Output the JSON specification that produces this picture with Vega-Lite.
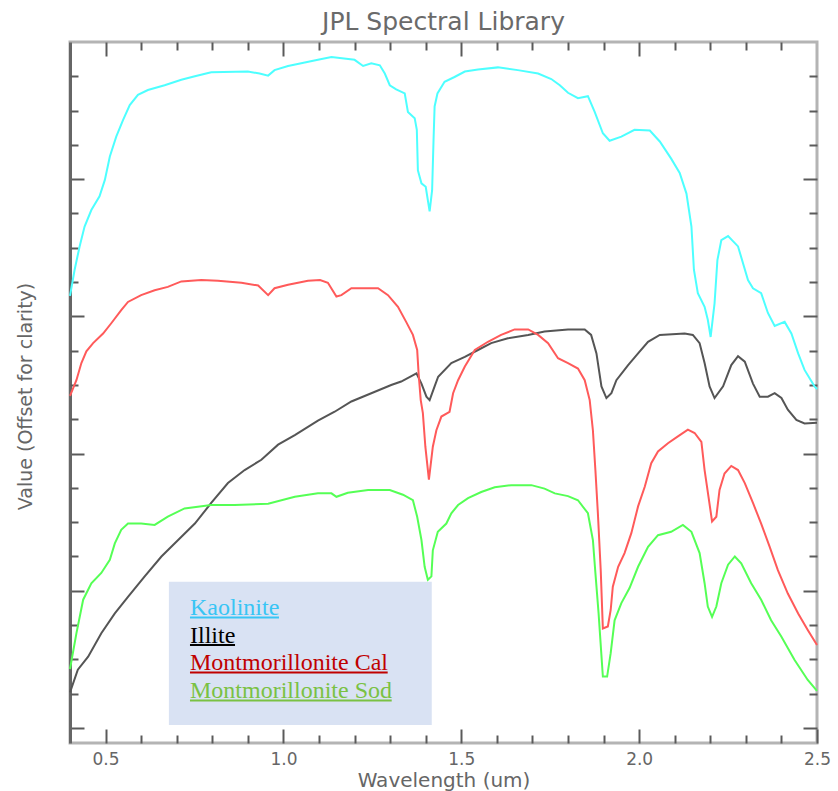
{
  "$schema": "https://vega.github.io/schema/vega-lite/v6.json",
  "width": 747,
  "height": 701,
  "autosize": "none",
  "padding": {"left": 70, "top": 42, "right": 21, "bottom": 48},
  "background": "white",
  "title": {"text": "JPL Spectral Library", "font": "DejaVu Sans", "fontSize": 25, "fontWeight": "normal", "color": "#6a6a6a", "anchor": "middle", "offset": 6},
  "config": {
    "view": {"stroke": "#b4b4b4", "strokeWidth": 3},
    "axis": {"grid": false, "domain": false, "tickColor": "#5a5a5a", "tickWidth": 2, "labelFont": "DejaVu Sans", "labelFontSize": 17, "labelColor": "#666666", "titleFont": "DejaVu Sans", "titleFontSize": 20, "titleFontWeight": "normal", "titleColor": "#666666", "labelFlush": false, "labelOverlap": false}
  },
  "datasets": {
    "spectra": [
      {"mineral": "Kaolinite", "w": 0.400, "v": 0.630},
      {"mineral": "Kaolinite", "w": 0.413, "v": 0.668},
      {"mineral": "Kaolinite", "w": 0.427, "v": 0.702},
      {"mineral": "Kaolinite", "w": 0.441, "v": 0.731},
      {"mineral": "Kaolinite", "w": 0.460, "v": 0.755},
      {"mineral": "Kaolinite", "w": 0.483, "v": 0.775},
      {"mineral": "Kaolinite", "w": 0.498, "v": 0.799},
      {"mineral": "Kaolinite", "w": 0.512, "v": 0.833},
      {"mineral": "Kaolinite", "w": 0.530, "v": 0.862},
      {"mineral": "Kaolinite", "w": 0.549, "v": 0.886},
      {"mineral": "Kaolinite", "w": 0.568, "v": 0.908},
      {"mineral": "Kaolinite", "w": 0.591, "v": 0.923},
      {"mineral": "Kaolinite", "w": 0.619, "v": 0.930},
      {"mineral": "Kaolinite", "w": 0.666, "v": 0.937},
      {"mineral": "Kaolinite", "w": 0.713, "v": 0.945},
      {"mineral": "Kaolinite", "w": 0.751, "v": 0.950},
      {"mineral": "Kaolinite", "w": 0.797, "v": 0.956},
      {"mineral": "Kaolinite", "w": 0.900, "v": 0.957},
      {"mineral": "Kaolinite", "w": 0.933, "v": 0.954},
      {"mineral": "Kaolinite", "w": 0.957, "v": 0.951},
      {"mineral": "Kaolinite", "w": 0.975, "v": 0.959},
      {"mineral": "Kaolinite", "w": 1.013, "v": 0.965},
      {"mineral": "Kaolinite", "w": 1.050, "v": 0.969},
      {"mineral": "Kaolinite", "w": 1.097, "v": 0.974},
      {"mineral": "Kaolinite", "w": 1.135, "v": 0.978},
      {"mineral": "Kaolinite", "w": 1.200, "v": 0.974},
      {"mineral": "Kaolinite", "w": 1.224, "v": 0.965},
      {"mineral": "Kaolinite", "w": 1.247, "v": 0.969},
      {"mineral": "Kaolinite", "w": 1.271, "v": 0.966},
      {"mineral": "Kaolinite", "w": 1.285, "v": 0.954},
      {"mineral": "Kaolinite", "w": 1.299, "v": 0.937},
      {"mineral": "Kaolinite", "w": 1.317, "v": 0.931},
      {"mineral": "Kaolinite", "w": 1.341, "v": 0.925},
      {"mineral": "Kaolinite", "w": 1.350, "v": 0.898},
      {"mineral": "Kaolinite", "w": 1.369, "v": 0.889},
      {"mineral": "Kaolinite", "w": 1.375, "v": 0.872},
      {"mineral": "Kaolinite", "w": 1.378, "v": 0.813},
      {"mineral": "Kaolinite", "w": 1.388, "v": 0.794},
      {"mineral": "Kaolinite", "w": 1.400, "v": 0.789},
      {"mineral": "Kaolinite", "w": 1.411, "v": 0.753},
      {"mineral": "Kaolinite", "w": 1.418, "v": 0.784},
      {"mineral": "Kaolinite", "w": 1.422, "v": 0.857},
      {"mineral": "Kaolinite", "w": 1.425, "v": 0.906},
      {"mineral": "Kaolinite", "w": 1.433, "v": 0.925},
      {"mineral": "Kaolinite", "w": 1.453, "v": 0.942},
      {"mineral": "Kaolinite", "w": 1.481, "v": 0.949},
      {"mineral": "Kaolinite", "w": 1.510, "v": 0.957},
      {"mineral": "Kaolinite", "w": 1.547, "v": 0.960},
      {"mineral": "Kaolinite", "w": 1.603, "v": 0.963},
      {"mineral": "Kaolinite", "w": 1.659, "v": 0.959},
      {"mineral": "Kaolinite", "w": 1.716, "v": 0.954},
      {"mineral": "Kaolinite", "w": 1.753, "v": 0.946},
      {"mineral": "Kaolinite", "w": 1.777, "v": 0.937},
      {"mineral": "Kaolinite", "w": 1.800, "v": 0.926},
      {"mineral": "Kaolinite", "w": 1.828, "v": 0.918},
      {"mineral": "Kaolinite", "w": 1.856, "v": 0.921},
      {"mineral": "Kaolinite", "w": 1.875, "v": 0.898},
      {"mineral": "Kaolinite", "w": 1.898, "v": 0.867},
      {"mineral": "Kaolinite", "w": 1.917, "v": 0.856},
      {"mineral": "Kaolinite", "w": 1.950, "v": 0.862},
      {"mineral": "Kaolinite", "w": 1.987, "v": 0.872},
      {"mineral": "Kaolinite", "w": 2.030, "v": 0.871},
      {"mineral": "Kaolinite", "w": 2.058, "v": 0.855},
      {"mineral": "Kaolinite", "w": 2.090, "v": 0.830},
      {"mineral": "Kaolinite", "w": 2.114, "v": 0.809},
      {"mineral": "Kaolinite", "w": 2.133, "v": 0.779},
      {"mineral": "Kaolinite", "w": 2.147, "v": 0.731},
      {"mineral": "Kaolinite", "w": 2.154, "v": 0.668},
      {"mineral": "Kaolinite", "w": 2.165, "v": 0.634},
      {"mineral": "Kaolinite", "w": 2.184, "v": 0.614},
      {"mineral": "Kaolinite", "w": 2.193, "v": 0.595},
      {"mineral": "Kaolinite", "w": 2.201, "v": 0.570},
      {"mineral": "Kaolinite", "w": 2.212, "v": 0.619},
      {"mineral": "Kaolinite", "w": 2.220, "v": 0.682},
      {"mineral": "Kaolinite", "w": 2.231, "v": 0.711},
      {"mineral": "Kaolinite", "w": 2.250, "v": 0.717},
      {"mineral": "Kaolinite", "w": 2.278, "v": 0.702},
      {"mineral": "Kaolinite", "w": 2.306, "v": 0.653},
      {"mineral": "Kaolinite", "w": 2.320, "v": 0.641},
      {"mineral": "Kaolinite", "w": 2.343, "v": 0.634},
      {"mineral": "Kaolinite", "w": 2.362, "v": 0.605},
      {"mineral": "Kaolinite", "w": 2.381, "v": 0.586},
      {"mineral": "Kaolinite", "w": 2.409, "v": 0.592},
      {"mineral": "Kaolinite", "w": 2.428, "v": 0.575},
      {"mineral": "Kaolinite", "w": 2.447, "v": 0.546},
      {"mineral": "Kaolinite", "w": 2.465, "v": 0.522},
      {"mineral": "Kaolinite", "w": 2.493, "v": 0.498},
      {"mineral": "Kaolinite", "w": 2.500, "v": 0.494},

      {"mineral": "Illite", "w": 0.400, "v": 0.052},
      {"mineral": "Illite", "w": 0.422, "v": 0.085},
      {"mineral": "Illite", "w": 0.451, "v": 0.104},
      {"mineral": "Illite", "w": 0.488, "v": 0.138},
      {"mineral": "Illite", "w": 0.526, "v": 0.167},
      {"mineral": "Illite", "w": 0.563, "v": 0.191},
      {"mineral": "Illite", "w": 0.610, "v": 0.221},
      {"mineral": "Illite", "w": 0.657, "v": 0.250},
      {"mineral": "Illite", "w": 0.704, "v": 0.274},
      {"mineral": "Illite", "w": 0.751, "v": 0.298},
      {"mineral": "Illite", "w": 0.797, "v": 0.328},
      {"mineral": "Illite", "w": 0.844, "v": 0.357},
      {"mineral": "Illite", "w": 0.891, "v": 0.376},
      {"mineral": "Illite", "w": 0.938, "v": 0.391},
      {"mineral": "Illite", "w": 0.985, "v": 0.413},
      {"mineral": "Illite", "w": 1.032, "v": 0.427},
      {"mineral": "Illite", "w": 1.097, "v": 0.448},
      {"mineral": "Illite", "w": 1.144, "v": 0.461},
      {"mineral": "Illite", "w": 1.191, "v": 0.476},
      {"mineral": "Illite", "w": 1.247, "v": 0.488},
      {"mineral": "Illite", "w": 1.303, "v": 0.500},
      {"mineral": "Illite", "w": 1.331, "v": 0.505},
      {"mineral": "Illite", "w": 1.374, "v": 0.517},
      {"mineral": "Illite", "w": 1.388, "v": 0.502},
      {"mineral": "Illite", "w": 1.402, "v": 0.483},
      {"mineral": "Illite", "w": 1.411, "v": 0.478},
      {"mineral": "Illite", "w": 1.425, "v": 0.498},
      {"mineral": "Illite", "w": 1.435, "v": 0.512},
      {"mineral": "Illite", "w": 1.472, "v": 0.532},
      {"mineral": "Illite", "w": 1.510, "v": 0.541},
      {"mineral": "Illite", "w": 1.547, "v": 0.551},
      {"mineral": "Illite", "w": 1.584, "v": 0.561},
      {"mineral": "Illite", "w": 1.631, "v": 0.568},
      {"mineral": "Illite", "w": 1.688, "v": 0.573},
      {"mineral": "Illite", "w": 1.734, "v": 0.578},
      {"mineral": "Illite", "w": 1.800, "v": 0.581},
      {"mineral": "Illite", "w": 1.847, "v": 0.581},
      {"mineral": "Illite", "w": 1.865, "v": 0.573},
      {"mineral": "Illite", "w": 1.880, "v": 0.546},
      {"mineral": "Illite", "w": 1.894, "v": 0.498},
      {"mineral": "Illite", "w": 1.908, "v": 0.481},
      {"mineral": "Illite", "w": 1.922, "v": 0.488},
      {"mineral": "Illite", "w": 1.936, "v": 0.507},
      {"mineral": "Illite", "w": 1.969, "v": 0.529},
      {"mineral": "Illite", "w": 1.997, "v": 0.546},
      {"mineral": "Illite", "w": 2.025, "v": 0.563},
      {"mineral": "Illite", "w": 2.058, "v": 0.573},
      {"mineral": "Illite", "w": 2.128, "v": 0.575},
      {"mineral": "Illite", "w": 2.151, "v": 0.573},
      {"mineral": "Illite", "w": 2.170, "v": 0.561},
      {"mineral": "Illite", "w": 2.184, "v": 0.532},
      {"mineral": "Illite", "w": 2.198, "v": 0.498},
      {"mineral": "Illite", "w": 2.212, "v": 0.481},
      {"mineral": "Illite", "w": 2.236, "v": 0.498},
      {"mineral": "Illite", "w": 2.259, "v": 0.529},
      {"mineral": "Illite", "w": 2.278, "v": 0.542},
      {"mineral": "Illite", "w": 2.297, "v": 0.534},
      {"mineral": "Illite", "w": 2.320, "v": 0.502},
      {"mineral": "Illite", "w": 2.339, "v": 0.483},
      {"mineral": "Illite", "w": 2.362, "v": 0.483},
      {"mineral": "Illite", "w": 2.381, "v": 0.488},
      {"mineral": "Illite", "w": 2.400, "v": 0.481},
      {"mineral": "Illite", "w": 2.418, "v": 0.464},
      {"mineral": "Illite", "w": 2.442, "v": 0.449},
      {"mineral": "Illite", "w": 2.465, "v": 0.444},
      {"mineral": "Illite", "w": 2.500, "v": 0.445},

      {"mineral": "Montmorillonite Cal", "w": 0.400, "v": 0.484},
      {"mineral": "Montmorillonite Cal", "w": 0.418, "v": 0.507},
      {"mineral": "Montmorillonite Cal", "w": 0.432, "v": 0.532},
      {"mineral": "Montmorillonite Cal", "w": 0.446, "v": 0.549},
      {"mineral": "Montmorillonite Cal", "w": 0.465, "v": 0.561},
      {"mineral": "Montmorillonite Cal", "w": 0.493, "v": 0.575},
      {"mineral": "Montmorillonite Cal", "w": 0.516, "v": 0.590},
      {"mineral": "Montmorillonite Cal", "w": 0.544, "v": 0.609},
      {"mineral": "Montmorillonite Cal", "w": 0.563, "v": 0.621},
      {"mineral": "Montmorillonite Cal", "w": 0.600, "v": 0.631},
      {"mineral": "Montmorillonite Cal", "w": 0.638, "v": 0.638},
      {"mineral": "Montmorillonite Cal", "w": 0.675, "v": 0.643},
      {"mineral": "Montmorillonite Cal", "w": 0.713, "v": 0.651},
      {"mineral": "Montmorillonite Cal", "w": 0.769, "v": 0.653},
      {"mineral": "Montmorillonite Cal", "w": 0.816, "v": 0.652},
      {"mineral": "Montmorillonite Cal", "w": 0.882, "v": 0.649},
      {"mineral": "Montmorillonite Cal", "w": 0.929, "v": 0.645},
      {"mineral": "Montmorillonite Cal", "w": 0.957, "v": 0.631},
      {"mineral": "Montmorillonite Cal", "w": 0.975, "v": 0.641},
      {"mineral": "Montmorillonite Cal", "w": 1.013, "v": 0.646},
      {"mineral": "Montmorillonite Cal", "w": 1.069, "v": 0.652},
      {"mineral": "Montmorillonite Cal", "w": 1.103, "v": 0.653},
      {"mineral": "Montmorillonite Cal", "w": 1.125, "v": 0.649},
      {"mineral": "Montmorillonite Cal", "w": 1.149, "v": 0.629},
      {"mineral": "Montmorillonite Cal", "w": 1.163, "v": 0.631},
      {"mineral": "Montmorillonite Cal", "w": 1.191, "v": 0.641},
      {"mineral": "Montmorillonite Cal", "w": 1.266, "v": 0.641},
      {"mineral": "Montmorillonite Cal", "w": 1.294, "v": 0.631},
      {"mineral": "Montmorillonite Cal", "w": 1.322, "v": 0.614},
      {"mineral": "Montmorillonite Cal", "w": 1.345, "v": 0.592},
      {"mineral": "Montmorillonite Cal", "w": 1.364, "v": 0.573},
      {"mineral": "Montmorillonite Cal", "w": 1.376, "v": 0.551},
      {"mineral": "Montmorillonite Cal", "w": 1.380, "v": 0.517},
      {"mineral": "Montmorillonite Cal", "w": 1.386, "v": 0.478},
      {"mineral": "Montmorillonite Cal", "w": 1.392, "v": 0.459},
      {"mineral": "Montmorillonite Cal", "w": 1.399, "v": 0.410},
      {"mineral": "Montmorillonite Cal", "w": 1.409, "v": 0.362},
      {"mineral": "Montmorillonite Cal", "w": 1.420, "v": 0.410},
      {"mineral": "Montmorillonite Cal", "w": 1.430, "v": 0.434},
      {"mineral": "Montmorillonite Cal", "w": 1.444, "v": 0.454},
      {"mineral": "Montmorillonite Cal", "w": 1.467, "v": 0.461},
      {"mineral": "Montmorillonite Cal", "w": 1.477, "v": 0.488},
      {"mineral": "Montmorillonite Cal", "w": 1.491, "v": 0.507},
      {"mineral": "Montmorillonite Cal", "w": 1.510, "v": 0.527},
      {"mineral": "Montmorillonite Cal", "w": 1.538, "v": 0.551},
      {"mineral": "Montmorillonite Cal", "w": 1.575, "v": 0.563},
      {"mineral": "Montmorillonite Cal", "w": 1.612, "v": 0.573},
      {"mineral": "Montmorillonite Cal", "w": 1.650, "v": 0.581},
      {"mineral": "Montmorillonite Cal", "w": 1.688, "v": 0.581},
      {"mineral": "Montmorillonite Cal", "w": 1.716, "v": 0.573},
      {"mineral": "Montmorillonite Cal", "w": 1.744, "v": 0.561},
      {"mineral": "Montmorillonite Cal", "w": 1.772, "v": 0.539},
      {"mineral": "Montmorillonite Cal", "w": 1.800, "v": 0.532},
      {"mineral": "Montmorillonite Cal", "w": 1.828, "v": 0.524},
      {"mineral": "Montmorillonite Cal", "w": 1.847, "v": 0.507},
      {"mineral": "Montmorillonite Cal", "w": 1.861, "v": 0.478},
      {"mineral": "Montmorillonite Cal", "w": 1.870, "v": 0.434},
      {"mineral": "Montmorillonite Cal", "w": 1.877, "v": 0.376},
      {"mineral": "Montmorillonite Cal", "w": 1.884, "v": 0.313},
      {"mineral": "Montmorillonite Cal", "w": 1.892, "v": 0.230},
      {"mineral": "Montmorillonite Cal", "w": 1.898, "v": 0.145},
      {"mineral": "Montmorillonite Cal", "w": 1.912, "v": 0.148},
      {"mineral": "Montmorillonite Cal", "w": 1.920, "v": 0.172},
      {"mineral": "Montmorillonite Cal", "w": 1.926, "v": 0.206},
      {"mineral": "Montmorillonite Cal", "w": 1.941, "v": 0.235},
      {"mineral": "Montmorillonite Cal", "w": 1.959, "v": 0.255},
      {"mineral": "Montmorillonite Cal", "w": 1.978, "v": 0.284},
      {"mineral": "Montmorillonite Cal", "w": 1.997, "v": 0.323},
      {"mineral": "Montmorillonite Cal", "w": 2.016, "v": 0.352},
      {"mineral": "Montmorillonite Cal", "w": 2.034, "v": 0.386},
      {"mineral": "Montmorillonite Cal", "w": 2.053, "v": 0.403},
      {"mineral": "Montmorillonite Cal", "w": 2.081, "v": 0.415},
      {"mineral": "Montmorillonite Cal", "w": 2.109, "v": 0.425},
      {"mineral": "Montmorillonite Cal", "w": 2.137, "v": 0.435},
      {"mineral": "Montmorillonite Cal", "w": 2.156, "v": 0.430},
      {"mineral": "Montmorillonite Cal", "w": 2.175, "v": 0.417},
      {"mineral": "Montmorillonite Cal", "w": 2.184, "v": 0.376},
      {"mineral": "Montmorillonite Cal", "w": 2.195, "v": 0.337},
      {"mineral": "Montmorillonite Cal", "w": 2.205, "v": 0.301},
      {"mineral": "Montmorillonite Cal", "w": 2.217, "v": 0.308},
      {"mineral": "Montmorillonite Cal", "w": 2.226, "v": 0.347},
      {"mineral": "Montmorillonite Cal", "w": 2.240, "v": 0.371},
      {"mineral": "Montmorillonite Cal", "w": 2.259, "v": 0.382},
      {"mineral": "Montmorillonite Cal", "w": 2.278, "v": 0.376},
      {"mineral": "Montmorillonite Cal", "w": 2.297, "v": 0.357},
      {"mineral": "Montmorillonite Cal", "w": 2.320, "v": 0.328},
      {"mineral": "Montmorillonite Cal", "w": 2.343, "v": 0.298},
      {"mineral": "Montmorillonite Cal", "w": 2.367, "v": 0.264},
      {"mineral": "Montmorillonite Cal", "w": 2.390, "v": 0.230},
      {"mineral": "Montmorillonite Cal", "w": 2.418, "v": 0.196},
      {"mineral": "Montmorillonite Cal", "w": 2.447, "v": 0.167},
      {"mineral": "Montmorillonite Cal", "w": 2.474, "v": 0.143},
      {"mineral": "Montmorillonite Cal", "w": 2.500, "v": 0.121},

      {"mineral": "Montmorillonite Sod", "w": 0.400, "v": 0.086},
      {"mineral": "Montmorillonite Sod", "w": 0.418, "v": 0.138},
      {"mineral": "Montmorillonite Sod", "w": 0.437, "v": 0.187},
      {"mineral": "Montmorillonite Sod", "w": 0.460, "v": 0.211},
      {"mineral": "Montmorillonite Sod", "w": 0.488, "v": 0.226},
      {"mineral": "Montmorillonite Sod", "w": 0.512, "v": 0.245},
      {"mineral": "Montmorillonite Sod", "w": 0.526, "v": 0.269},
      {"mineral": "Montmorillonite Sod", "w": 0.544, "v": 0.289},
      {"mineral": "Montmorillonite Sod", "w": 0.563, "v": 0.298},
      {"mineral": "Montmorillonite Sod", "w": 0.600, "v": 0.298},
      {"mineral": "Montmorillonite Sod", "w": 0.638, "v": 0.296},
      {"mineral": "Montmorillonite Sod", "w": 0.675, "v": 0.308},
      {"mineral": "Montmorillonite Sod", "w": 0.722, "v": 0.320},
      {"mineral": "Montmorillonite Sod", "w": 0.797, "v": 0.325},
      {"mineral": "Montmorillonite Sod", "w": 0.863, "v": 0.325},
      {"mineral": "Montmorillonite Sod", "w": 0.957, "v": 0.327},
      {"mineral": "Montmorillonite Sod", "w": 1.032, "v": 0.337},
      {"mineral": "Montmorillonite Sod", "w": 1.097, "v": 0.342},
      {"mineral": "Montmorillonite Sod", "w": 1.135, "v": 0.342},
      {"mineral": "Montmorillonite Sod", "w": 1.149, "v": 0.337},
      {"mineral": "Montmorillonite Sod", "w": 1.181, "v": 0.343},
      {"mineral": "Montmorillonite Sod", "w": 1.238, "v": 0.347},
      {"mineral": "Montmorillonite Sod", "w": 1.299, "v": 0.347},
      {"mineral": "Montmorillonite Sod", "w": 1.336, "v": 0.340},
      {"mineral": "Montmorillonite Sod", "w": 1.364, "v": 0.332},
      {"mineral": "Montmorillonite Sod", "w": 1.376, "v": 0.308},
      {"mineral": "Montmorillonite Sod", "w": 1.388, "v": 0.274},
      {"mineral": "Montmorillonite Sod", "w": 1.397, "v": 0.235},
      {"mineral": "Montmorillonite Sod", "w": 1.406, "v": 0.216},
      {"mineral": "Montmorillonite Sod", "w": 1.416, "v": 0.221},
      {"mineral": "Montmorillonite Sod", "w": 1.420, "v": 0.259},
      {"mineral": "Montmorillonite Sod", "w": 1.434, "v": 0.286},
      {"mineral": "Montmorillonite Sod", "w": 1.458, "v": 0.298},
      {"mineral": "Montmorillonite Sod", "w": 1.472, "v": 0.313},
      {"mineral": "Montmorillonite Sod", "w": 1.491, "v": 0.325},
      {"mineral": "Montmorillonite Sod", "w": 1.519, "v": 0.335},
      {"mineral": "Montmorillonite Sod", "w": 1.556, "v": 0.344},
      {"mineral": "Montmorillonite Sod", "w": 1.594, "v": 0.351},
      {"mineral": "Montmorillonite Sod", "w": 1.641, "v": 0.354},
      {"mineral": "Montmorillonite Sod", "w": 1.697, "v": 0.354},
      {"mineral": "Montmorillonite Sod", "w": 1.734, "v": 0.349},
      {"mineral": "Montmorillonite Sod", "w": 1.763, "v": 0.342},
      {"mineral": "Montmorillonite Sod", "w": 1.800, "v": 0.338},
      {"mineral": "Montmorillonite Sod", "w": 1.828, "v": 0.332},
      {"mineral": "Montmorillonite Sod", "w": 1.856, "v": 0.313},
      {"mineral": "Montmorillonite Sod", "w": 1.870, "v": 0.274},
      {"mineral": "Montmorillonite Sod", "w": 1.877, "v": 0.226},
      {"mineral": "Montmorillonite Sod", "w": 1.886, "v": 0.167},
      {"mineral": "Montmorillonite Sod", "w": 1.898, "v": 0.075},
      {"mineral": "Montmorillonite Sod", "w": 1.910, "v": 0.075},
      {"mineral": "Montmorillonite Sod", "w": 1.920, "v": 0.109},
      {"mineral": "Montmorillonite Sod", "w": 1.931, "v": 0.157},
      {"mineral": "Montmorillonite Sod", "w": 1.950, "v": 0.182},
      {"mineral": "Montmorillonite Sod", "w": 1.973, "v": 0.204},
      {"mineral": "Montmorillonite Sod", "w": 1.997, "v": 0.235},
      {"mineral": "Montmorillonite Sod", "w": 2.025, "v": 0.264},
      {"mineral": "Montmorillonite Sod", "w": 2.053, "v": 0.281},
      {"mineral": "Montmorillonite Sod", "w": 2.090, "v": 0.286},
      {"mineral": "Montmorillonite Sod", "w": 2.123, "v": 0.296},
      {"mineral": "Montmorillonite Sod", "w": 2.147, "v": 0.286},
      {"mineral": "Montmorillonite Sod", "w": 2.170, "v": 0.255},
      {"mineral": "Montmorillonite Sod", "w": 2.184, "v": 0.211},
      {"mineral": "Montmorillonite Sod", "w": 2.193, "v": 0.177},
      {"mineral": "Montmorillonite Sod", "w": 2.205, "v": 0.162},
      {"mineral": "Montmorillonite Sod", "w": 2.217, "v": 0.177},
      {"mineral": "Montmorillonite Sod", "w": 2.231, "v": 0.211},
      {"mineral": "Montmorillonite Sod", "w": 2.250, "v": 0.238},
      {"mineral": "Montmorillonite Sod", "w": 2.269, "v": 0.250},
      {"mineral": "Montmorillonite Sod", "w": 2.287, "v": 0.240},
      {"mineral": "Montmorillonite Sod", "w": 2.315, "v": 0.211},
      {"mineral": "Montmorillonite Sod", "w": 2.343, "v": 0.187},
      {"mineral": "Montmorillonite Sod", "w": 2.371, "v": 0.157},
      {"mineral": "Montmorillonite Sod", "w": 2.400, "v": 0.133},
      {"mineral": "Montmorillonite Sod", "w": 2.437, "v": 0.099},
      {"mineral": "Montmorillonite Sod", "w": 2.474, "v": 0.070},
      {"mineral": "Montmorillonite Sod", "w": 2.500, "v": 0.054}
    ],
    "one": [{}]
  },
  "data": {"name": "spectra"},
  "resolve": {"axis": {"x": "independent", "y": "independent"}},
  "layer": [
    {
      "transform": [{"filter": "datum.mineral === 'Kaolinite'"}],
      "mark": {"type": "line", "color": "#4dffff", "strokeWidth": 2},
      "encoding": {
        "x": {"field": "w", "type": "quantitative", "scale": {"domain": [0.4, 2.5], "nice": false, "zero": false},
          "axis": {"orient": "bottom", "values": [0.5, 1.0, 1.5, 2.0, 2.5], "format": ".1f", "tickSize": -14, "labelPadding": 22, "labelBaseline": "top", "title": "Wavelength (um)", "titleY": 37, "titleBaseline": "middle"}},
        "y": {"field": "v", "type": "quantitative", "scale": {"domain": [-0.0219, 1.0], "nice": false, "zero": false},
          "axis": {"orient": "left", "values": [0, 0.2, 0.4, 0.6, 0.8], "tickSize": -14, "labels": false, "domain": true, "domainColor": "#666666", "domainWidth": 3, "title": "Value (Offset for clarity)", "titleFontSize": 19, "titleX": -45, "titleY": 354, "titleBaseline": "middle"}}
      }
    },
    {
      "transform": [{"filter": "datum.mineral === 'Illite'"}],
      "mark": {"type": "line", "color": "#555555", "strokeWidth": 2},
      "encoding": {
        "x": {"field": "w", "type": "quantitative", "scale": {"domain": [0.4, 2.5], "nice": false, "zero": false},
          "axis": {"orient": "bottom", "values": [0.6, 0.7, 0.8, 0.9, 1.1, 1.2, 1.3, 1.4, 1.6, 1.7, 1.8, 1.9, 2.1, 2.2, 2.3, 2.4], "tickSize": -8, "labels": false, "title": null}},
        "y": {"field": "v", "type": "quantitative", "scale": {"domain": [-0.0219, 1.0], "nice": false, "zero": false},
          "axis": {"orient": "left", "values": [0.05, 0.1, 0.15, 0.25, 0.3, 0.35, 0.45, 0.5, 0.55, 0.65, 0.7, 0.75, 0.85, 0.9, 0.95], "tickSize": -8, "labels": false, "title": null}}
      }
    },
    {
      "transform": [{"filter": "datum.mineral === 'Montmorillonite Cal'"}],
      "mark": {"type": "line", "color": "#ff5a5a", "strokeWidth": 2},
      "encoding": {
        "x": {"field": "w", "type": "quantitative", "scale": {"domain": [0.4, 2.5], "nice": false, "zero": false},
          "axis": {"orient": "top", "values": [0.5, 1.0, 1.5, 2.0], "tickSize": -14, "labels": false, "title": null}},
        "y": {"field": "v", "type": "quantitative", "scale": {"domain": [-0.0219, 1.0], "nice": false, "zero": false},
          "axis": {"orient": "right", "values": [0, 0.2, 0.4, 0.6, 0.8], "tickSize": -14, "labels": false, "title": null}}
      }
    },
    {
      "transform": [{"filter": "datum.mineral === 'Montmorillonite Sod'"}],
      "mark": {"type": "line", "color": "#55ff55", "strokeWidth": 2},
      "encoding": {
        "x": {"field": "w", "type": "quantitative", "scale": {"domain": [0.4, 2.5], "nice": false, "zero": false},
          "axis": {"orient": "top", "values": [0.6, 0.7, 0.8, 0.9, 1.1, 1.2, 1.3, 1.4, 1.6, 1.7, 1.8, 1.9, 2.1, 2.2, 2.3, 2.4], "tickSize": -8, "labels": false, "title": null}},
        "y": {"field": "v", "type": "quantitative", "scale": {"domain": [-0.0219, 1.0], "nice": false, "zero": false},
          "axis": {"orient": "right", "values": [0.05, 0.1, 0.15, 0.25, 0.3, 0.35, 0.45, 0.5, 0.55, 0.65, 0.7, 0.75, 0.85, 0.9, 0.95], "tickSize": -8, "labels": false, "title": null}}
      }
    },
    {
      "data": {"name": "one"},
      "mark": {"type": "rect", "color": "#d9e2f3"},
      "encoding": {
        "x": {"datum": 0.678, "type": "quantitative", "axis": null},
        "x2": {"datum": 1.417},
        "y": {"datum": 0.2133, "type": "quantitative", "axis": null},
        "y2": {"datum": 0.0044}
      }
    },
    {
      "data": {"name": "one"},
      "mark": {"type": "text", "text": "Kaolinite", "font": "Liberation Serif", "fontSize": 24, "align": "left", "baseline": "alphabetic", "color": "#38c5f5"},
      "encoding": {"x": {"datum": 0.7373, "type": "quantitative", "axis": null}, "y": {"datum": 0.1647, "type": "quantitative", "axis": null}}
    },
    {
      "data": {"name": "one"},
      "mark": {"type": "text", "text": "Illite", "font": "Liberation Serif", "fontSize": 24, "align": "left", "baseline": "alphabetic", "color": "#000000"},
      "encoding": {"x": {"datum": 0.7373, "type": "quantitative", "axis": null}, "y": {"datum": 0.1243, "type": "quantitative", "axis": null}}
    },
    {
      "data": {"name": "one"},
      "mark": {"type": "text", "text": "Montmorillonite Cal", "font": "Liberation Serif", "fontSize": 24, "align": "left", "baseline": "alphabetic", "color": "#c00000"},
      "encoding": {"x": {"datum": 0.7373, "type": "quantitative", "axis": null}, "y": {"datum": 0.0845, "type": "quantitative", "axis": null}}
    },
    {
      "data": {"name": "one"},
      "mark": {"type": "text", "text": "Montmorillonite Sod", "font": "Liberation Serif", "fontSize": 24, "align": "left", "baseline": "alphabetic", "color": "#7ac143"},
      "encoding": {"x": {"datum": 0.7373, "type": "quantitative", "axis": null}, "y": {"datum": 0.0437, "type": "quantitative", "axis": null}}
    },
    {
      "data": {"name": "one"},
      "mark": {"type": "rule", "strokeWidth": 2, "color": "#38c5f5"},
      "encoding": {"x": {"datum": 0.7373, "type": "quantitative", "axis": null}, "x2": {"datum": 0.9875}, "y": {"datum": 0.1611, "type": "quantitative", "axis": null}}
    },
    {
      "data": {"name": "one"},
      "mark": {"type": "rule", "strokeWidth": 2, "color": "#000000"},
      "encoding": {"x": {"datum": 0.7373, "type": "quantitative", "axis": null}, "x2": {"datum": 0.8639}, "y": {"datum": 0.1210, "type": "quantitative", "axis": null}}
    },
    {
      "data": {"name": "one"},
      "mark": {"type": "rule", "strokeWidth": 2, "color": "#c00000"},
      "encoding": {"x": {"datum": 0.7373, "type": "quantitative", "axis": null}, "x2": {"datum": 1.2931}, "y": {"datum": 0.0809, "type": "quantitative", "axis": null}}
    },
    {
      "data": {"name": "one"},
      "mark": {"type": "rule", "strokeWidth": 2, "color": "#7ac143"},
      "encoding": {"x": {"datum": 0.7373, "type": "quantitative", "axis": null}, "x2": {"datum": 1.3044}, "y": {"datum": 0.0401, "type": "quantitative", "axis": null}}
    }
  ]
}
